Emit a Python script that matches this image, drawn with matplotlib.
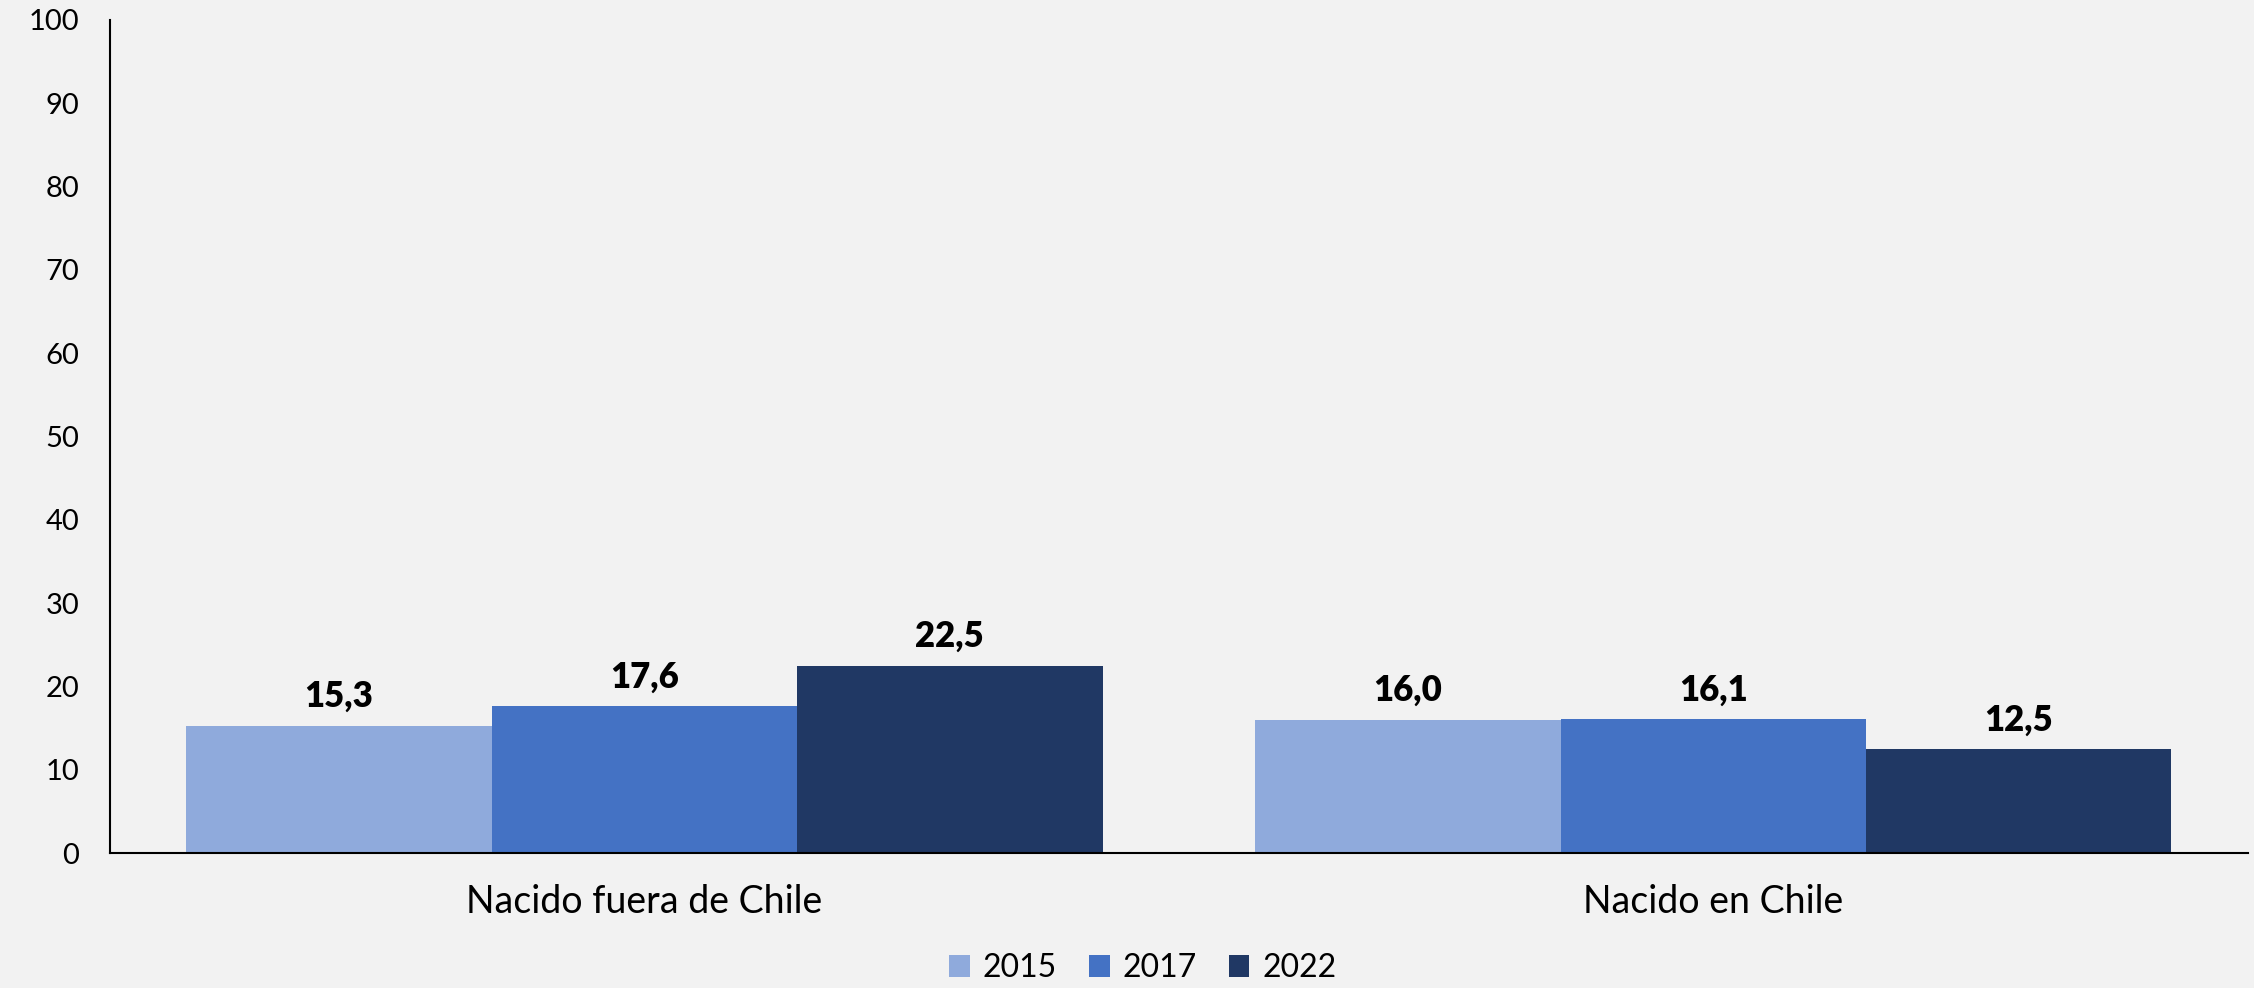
import matplotlib.pyplot as plt
import numpy as np

categories = ['Nacido fuera de Chile', 'Nacido en Chile']
years = ['2015', '2017', '2022']
v2015 = [15.3, 16.0]
v2017 = [17.6, 16.1]
v2022 = [22.5, 12.5]
colors = ['#8FAADC', '#4472C4', '#203864']

plt.rcParams['font.family'] = ['Lato', 'DejaVu Sans']

fig = plt.figure(figsize=(22.54, 9.88), dpi=100, facecolor='#F2F2F2')
ax = fig.add_axes([0.0488, 0.1366, 0.9485, 0.8432])
ax.set_facecolor('#F2F2F2')

x = np.arange(len(categories))
width = 0.857 / 3
for i, (vals, yr) in enumerate(zip([v2015, v2017, v2022], years)):
    pos = x + (i - 1) * width
    bars = ax.bar(pos, vals, width, color=colors[i], label=yr)
    for xp, v in zip(pos, vals):
        ax.annotate(f'{v:.1f}'.replace('.', ','), (xp, v), xytext=(0, 9),
                    textcoords='offset points', ha='center', va='bottom',
                    fontsize=25, fontweight='heavy')

ax.set_xlim(-0.5, 1.5)
ax.set_ylim(0, 100)
ax.set_yticks(range(0, 101, 10))
ax.set_xticks(x)
ax.set_xticklabels(categories)
ax.tick_params(axis='y', length=0, labelsize=21, pad=22)
ax.tick_params(axis='x', length=0, labelsize=27, pad=22)
for s in ['top', 'right']:
    ax.spines[s].set_visible(False)
ax.spines['left'].set_linewidth(1.5)
ax.spines['bottom'].set_linewidth(1.5)

handles, labels = ax.get_legend_handles_labels()
fig.legend(handles, labels, loc='center', bbox_to_anchor=(0.507, 0.02), ncol=3,
           frameon=False, fontsize=23, handlelength=0.65, handleheight=0.65,
           handletextpad=0.4, columnspacing=1.0)

fig.savefig('out.png', dpi=100, facecolor=fig.get_facecolor())
